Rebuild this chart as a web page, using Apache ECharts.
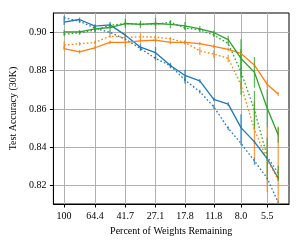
<!DOCTYPE html>
<html><head><meta charset="utf-8">
<script src="https://cdn.jsdelivr.net/npm/echarts@6/dist/echarts.min.js"></script>
<style>html,body{margin:0;padding:0;background:#fff}#c{width:302px;height:245px}</style>
</head><body><div id="c"></div>
<script>
const percent = [100, 80.2, 64.4, 51.9, 41.7, 33.6, 27.1, 21.9, 17.8, 14.4, 11.8, 9.6, 8.0, 6.6, 5.5, 4.7];
const xTickValues = [100, 64.4, 41.7, 27.1, 17.8, 11.8, 8.0, 5.5];
const xTickLabels = ['100', '64.4', '41.7', '27.1', '17.8', '11.8', '8.0', '5.5'];
const yTickValues = [0.82, 0.84, 0.86, 0.88, 0.90];
const yTickLabels = ['0.82', '0.84', '0.86', '0.88', '0.90'];

const blueSolid = [0.9054, 0.9068, 0.9033, 0.9040, 0.8986, 0.8923, 0.8894, 0.8827, 0.8775, 0.8747, 0.8650, 0.8625, 0.8502, 0.8427, 0.8339, 0.8237];
const blueSolidErr = [0.0015, 0.001, 0.001, 0.0015, 0.001, 0.002, 0.003, 0.0015, 0.003, 0.001, 0.001, 0.001, 0.007, 0.001, 0.001, 0.001];
const blueDotted = [0.9077, 0.9059, 0.9023, 0.9000, 0.8965, 0.8916, 0.8864, 0.8826, 0.8751, 0.8690, 0.8611, 0.8498, 0.8420, 0.8327, 0.8237, 0.8110];
const blueDottedErr = [0.001, 0.001, 0.001, 0.001, 0.001, 0.001, 0.001, 0.001, 0.002, 0.001, 0.001, 0.001, 0.001, 0.002, 0.001, 0.001];
const orangeSolid = [0.8916, 0.8899, 0.8920, 0.8948, 0.8948, 0.8956, 0.8960, 0.8948, 0.8948, 0.8942, 0.8927, 0.8911, 0.8890, 0.8829, 0.8728, 0.8678];
const orangeSolidErr = [0.001, 0.001, 0.001, 0.001, 0.0025, 0.001, 0.001, 0.001, 0.001, 0.001, 0.001, 0.001, 0.001, 0.001, 0.002, 0.001];
const orangeDotted = [0.8934, 0.8941, 0.8948, 0.8981, 0.8974, 0.8977, 0.8976, 0.8967, 0.8948, 0.8904, 0.8887, 0.8864, 0.8725, 0.8490, 0.8333, 0.8228];
const orangeDottedErr = [0.002, 0.001, 0.001, 0.001, 0.0025, 0.002, 0.001, 0.001, 0.001, 0.002, 0.002, 0.002, 0.002, 0.015, 0.017, 0.028];
const greenSolid = [0.9003, 0.9003, 0.9019, 0.9026, 0.9047, 0.9042, 0.9047, 0.9042, 0.9035, 0.9019, 0.9000, 0.8963, 0.8864, 0.8791, 0.8603, 0.8463];
const greenSolidErr = [0.001, 0.001, 0.002, 0.002, 0.0025, 0.002, 0.003, 0.002, 0.002, 0.0015, 0.001, 0.002, 0.010, 0.008, 0.010, 0.004];
const greenDotted = [0.8991, 0.8998, 0.9012, 0.9037, 0.9047, 0.9044, 0.9044, 0.9054, 0.9023, 0.9014, 0.8986, 0.8942, 0.8794, 0.8594, 0.8350, 0.8263];
const greenDottedErr = [0.001, 0.001, 0.001, 0.001, 0.001, 0.001, 0.001, 0.001, 0.001, 0.001, 0.001, 0.001, 0.012, 0.010, 0.010, 0.004];

const BLUE = '#1f77b4', ORANGE = '#ff7f0e', GREEN = '#2ca02c';
const FONT = 'Liberation Serif';

const groups = [
  {name: 'blue', color: BLUE, solid: blueSolid, solidErr: blueSolidErr, dotted: blueDotted, dottedErr: blueDottedErr},
  {name: 'orange', color: ORANGE, solid: orangeSolid, solidErr: orangeSolidErr, dotted: orangeDotted, dottedErr: orangeDottedErr},
  {name: 'green', color: GREEN, solid: greenSolid, solidErr: greenSolidErr, dotted: greenDotted, dottedErr: greenDottedErr}
];

function lineSeries(name, vals, color, dotted) {
  return {
    type: 'line', name: name, symbol: 'none', silent: true, animation: false,
    data: vals.map((v, i) => [percent[i], v]),
    lineStyle: {color: color, width: 1.3, type: dotted ? [1.6, 2.2] : 'solid'},
    clip: true, z: 3
  };
}
function errSeries(name, vals, errs, color) {
  return {
    type: 'custom', name: name, silent: true, animation: false, z: 2,
    data: vals.map((v, i) => [percent[i], v, errs[i]]),
    renderItem: function (params, api) {
      const x = api.value(0), y = api.value(1), e = api.value(2);
      const p1 = api.coord([x, y + e]);
      const p2 = api.coord([x, y - e]);
      const cs = params.coordSys;
      const top = Math.max(cs.y, Math.min(p1[1], p2[1]));
      const bot = Math.min(cs.y + cs.height, Math.max(p1[1], p2[1]));
      if (bot <= top) return null;
      return {type: 'line', shape: {x1: p1[0], y1: top, x2: p1[0], y2: bot},
              style: {stroke: color, lineWidth: 1.3, opacity: 0.75}};
    }
  };
}

const series = [];
groups.forEach(g => {
  series.push(errSeries(g.name + '-solid-err', g.solid, g.solidErr, g.color));
  series.push(errSeries(g.name + '-dotted-err', g.dotted, g.dottedErr, g.color));
});
groups.forEach(g => {
  series.push(lineSeries(g.name + '-solid', g.solid, g.color, false));
  series.push(lineSeries(g.name + '-dotted', g.dotted, g.color, true));
});

const chart = echarts.init(document.getElementById('c'), null, {renderer: 'canvas'});
chart.setOption({
  animation: false,
  backgroundColor: '#fff',
  grid: {left: 48, right: 13, top: 13, bottom: 41, show: true, borderColor: '#000', borderWidth: 1, backgroundColor: 'transparent'},
  xAxis: {
    type: 'log', logBase: 10, inverse: true, min: 4.03, max: 116.5,
    name: 'Percent of Weights Remaining', nameLocation: 'middle', nameGap: 22,
    nameTextStyle: {fontFamily: FONT, fontSize: 10, color: '#000'},
    axisLine: {show: true, lineStyle: {color: '#000', width: 1}},
    axisTick: {show: true, inside: false, length: 3.5, customValues: xTickValues, lineStyle: {color: '#000', width: 1}},
    axisLabel: {customValues: xTickValues, margin: 7, fontFamily: FONT, fontSize: 10, color: '#000',
      formatter: v => { const i = xTickValues.findIndex(t => Math.abs(t - v) < 1e-6); return i >= 0 ? xTickLabels[i] : ''; }},
    splitLine: {show: true, lineStyle: {color: '#b0b0b0', width: 1}},
    minorTick: {show: false}, minorSplitLine: {show: false}
  },
  yAxis: {
    type: 'value', min: 0.8102, max: 0.9102,
    name: 'Test Accuracy (30K)', nameLocation: 'middle', nameGap: 33, nameRotate: 90,
    nameTextStyle: {fontFamily: FONT, fontSize: 10, color: '#000'},
    axisLine: {show: true, lineStyle: {color: '#000', width: 1}},
    axisTick: {show: true, inside: false, length: 3.5, customValues: yTickValues, lineStyle: {color: '#000', width: 1}},
    axisLabel: {customValues: yTickValues, margin: 7, fontFamily: FONT, fontSize: 10, color: '#000',
      formatter: v => { const i = yTickValues.findIndex(t => Math.abs(t - v) < 1e-6); return i >= 0 ? yTickLabels[i] : ''; }},
    splitLine: {show: true, lineStyle: {color: '#b0b0b0', width: 1}}
  },
  series: series
});
</script></body></html>
